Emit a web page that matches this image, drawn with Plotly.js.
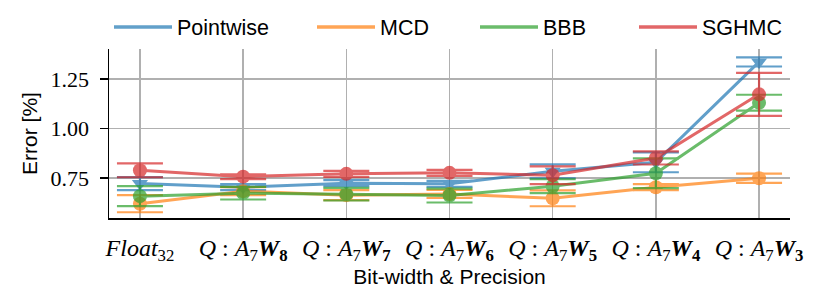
<!DOCTYPE html>
<html><head><meta charset="utf-8">
<script src="https://cdn.plot.ly/plotly-3.0.1.min.js"></script>
<style>html,body{margin:0;padding:0;background:#fff}#chart{width:830px;height:291px}</style>
</head><body><div id="chart"></div>
<script>
const categories = [
  "<i>Float</i><sub>32</sub>",
  "<i>Q</i> : <i>A</i><sub>7</sub><b><i>W</i><sub>8</sub></b>",
  "<i>Q</i> : <i>A</i><sub>7</sub><b><i>W</i><sub>7</sub></b>",
  "<i>Q</i> : <i>A</i><sub>7</sub><b><i>W</i><sub>6</sub></b>",
  "<i>Q</i> : <i>A</i><sub>7</sub><b><i>W</i><sub>5</sub></b>",
  "<i>Q</i> : <i>A</i><sub>7</sub><b><i>W</i><sub>4</sub></b>",
  "<i>Q</i> : <i>A</i><sub>7</sub><b><i>W</i><sub>3</sub></b>"
];
const seriesNames = ["Pointwise", "MCD", "BBB", "SGHMC"];
const pointwiseMean = [0.723, 0.705, 0.725, 0.722, 0.785, 0.830, 1.335];
const pointwiseErr  = [0.033, 0.015, 0.015, 0.015, 0.035, 0.050, 0.023];
const mcdMean = [0.622, 0.685, 0.665, 0.671, 0.649, 0.705, 0.750];
const mcdErr  = [0.043, 0.020, 0.025, 0.020, 0.040, 0.015, 0.023];
const bbbMean = [0.660, 0.675, 0.670, 0.663, 0.710, 0.775, 1.130];
const bbbErr  = [0.050, 0.032, 0.032, 0.035, 0.035, 0.075, 0.040];
const sghmcMean = [0.790, 0.758, 0.772, 0.777, 0.765, 0.852, 1.172];
const sghmcErr  = [0.035, 0.012, 0.015, 0.015, 0.045, 0.033, 0.108];
const yTicks = [0.75, 1.00, 1.25];
const yTickText = ["0.75", "1.00", "1.25"];
const colors = ["#1f77b4", "#ff7f0e", "#2ca02c", "#d62728"];
const symbols = ["triangle-down", "circle", "circle", "circle"];
const legendWidths = [130, 90, 86, 80];

const xs = categories.map((_, i) => i);
const means = [pointwiseMean, mcdMean, bbbMean, sghmcMean];
const errs = [pointwiseErr, mcdErr, bbbErr, sghmcErr];
const traces = seriesNames.map((n, k) => ({
  type: "scatter", mode: "lines+markers", name: n, showlegend: false,
  x: xs, y: means[k], opacity: 0.7,
  line: {color: colors[k], width: 3},
  marker: {color: colors[k], size: 14, symbol: symbols[k]},
  error_y: {type: "data", array: errs[k], visible: true, color: colors[k], thickness: 2.2, width: 23}
}));
// legend-only line entries (the reference legend shows lines without markers)
seriesNames.forEach((n, k) => traces.push({
  type: "scatter", mode: "lines", name: n, x: [null], y: [null], opacity: 0.7,
  line: {color: colors[k], width: 3.5}, legendwidth: legendWidths[k]
}));

const layout = {
  width: 830, height: 291,
  margin: {l: 109, r: 40, t: 49, b: 73, autoexpand: false},
  paper_bgcolor: "#fff", plot_bgcolor: "#fff",
  font: {family: "Liberation Sans, Arial, sans-serif", size: 21, color: "#000"},
  showlegend: true,
  legend: {orientation: "h", x: 0, xanchor: "left", y: 1.13, yanchor: "middle",
    font: {size: 21.5}, itemwidth: 58, traceorder: "normal", bgcolor: "rgba(0,0,0,0)"},
  xaxis: {
    range: [-0.3, 6.3], tickmode: "array", tickvals: xs, ticktext: categories,
    tickfont: {family: "'Liberation Serif', serif", size: 24},
    showgrid: true, gridcolor: "#b0b0b0", gridwidth: 1.5, zeroline: false,
    showline: true, linecolor: "#000", linewidth: 1.5,
    ticks: "", ticklabelstandoff: 8,
    title: {text: "Bit-width &amp; Precision", font: {size: 21}, standoff: 4}
  },
  yaxis: {
    range: [0.55, 1.40], tickmode: "array", tickvals: yTicks, ticktext: yTickText,
    tickfont: {family: "'Liberation Serif', serif", size: 22},
    showgrid: true, gridcolor: "#b0b0b0", gridwidth: 1.5, zeroline: false,
    showline: true, linecolor: "#000", linewidth: 1.5,
    ticks: "outside", ticklen: 8, tickwidth: 1.5, tickcolor: "#000", ticklabelstandoff: 6,
    title: {text: "Error [%]", font: {size: 21}, standoff: 7}
  }
};
Plotly.newPlot("chart", traces, layout, {displayModeBar: false, staticPlot: true});
</script></body></html>
